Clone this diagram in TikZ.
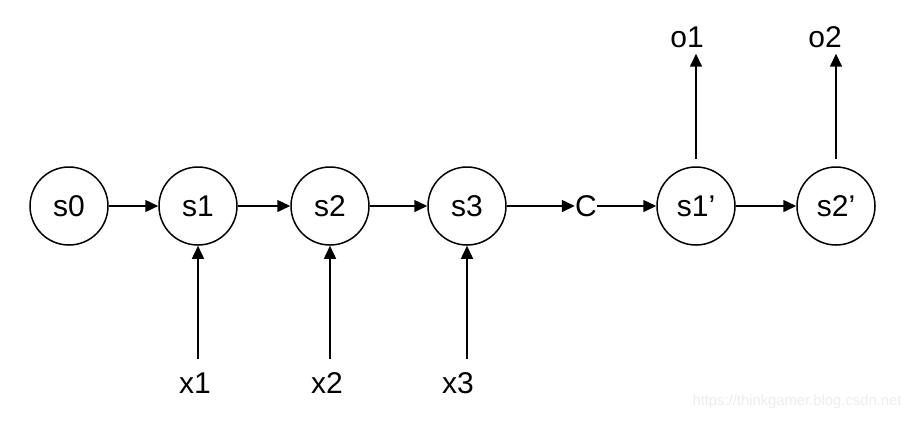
\documentclass[tikz,border=0pt]{standalone}
\usepackage{fontspec}
\setmainfont{Liberation Sans}
\usetikzlibrary{arrows.meta,positioning}
\definecolor{tinta}{HTML}{000000}
\definecolor{marca}{HTML}{ECECEC}
\tikzset{
  estado/.style={circle,draw=tinta,fill=white,line width=0.75pt,inner sep=0pt,minimum size=39pt,font=\fontsize{15}{18}\selectfont},
  etiqueta/.style={inner sep=0pt,text=tinta,font=\fontsize{15}{18}\selectfont},
  flecha/.style={draw=tinta,line width=0.75pt,-{Triangle[length=6.5pt,width=6pt]}},
  entrada/.style={flecha,shorten <=6.5pt},
  salida/.style={flecha,shorten <=3.5pt,shorten >=3pt},
}

\begin{document}
\begin{tikzpicture}[x=0.5pt,y=-0.5pt]
\useasboundingbox (0,0) rectangle (920,420);
% estados del codificador y del decodificador
\node[estado] (s0) at (69,206) {s0};
\node[estado] (s1) at (198,206) {s1};
\node[estado] (s2) at (330,206) {s2};
\node[estado] (s3) at (467,206) {s3};
\node[etiqueta] (c) at (586,206) {C};
\node[estado] (s1p) at (696,206) {s1'};
\node[estado] (s2p) at (836,206) {s2'};
% entradas y salidas
\node[etiqueta,anchor=base] (x1) at (195,393) {x1};
\node[etiqueta,anchor=base] (x2) at (327,393) {x2};
\node[etiqueta,anchor=base] (x3) at (458,393) {x3};
\node[etiqueta,anchor=base] (o1) at (687,47) {o1};
\node[etiqueta,anchor=base] (o2) at (825,47) {o2};
\draw[flecha] (s0) -- (s1);
\draw[flecha] (s1) -- (s2);
\draw[flecha] (s2) -- (s3);
\draw[flecha] (s3) -- (c);
\draw[flecha] (c) -- (s1p);
\draw[flecha] (s1p) -- (s2p);
\draw[entrada] (s1.south |- x1.north) -- (s1.south);
\draw[entrada] (s2.south |- x2.north) -- (s2.south);
\draw[entrada] (s3.south |- x3.north) -- (s3.south);
\draw[salida] (s1p.north) -- (s1p.north |- o1.south);
\draw[salida] (s2p.north) -- (s2p.north |- o2.south);
\node[etiqueta,text=marca,font=\fontsize{7.4}{9}\selectfont] (web) at (797,402) {https://thinkgamer.blog.csdn.net};
\end{tikzpicture}
\end{document}
